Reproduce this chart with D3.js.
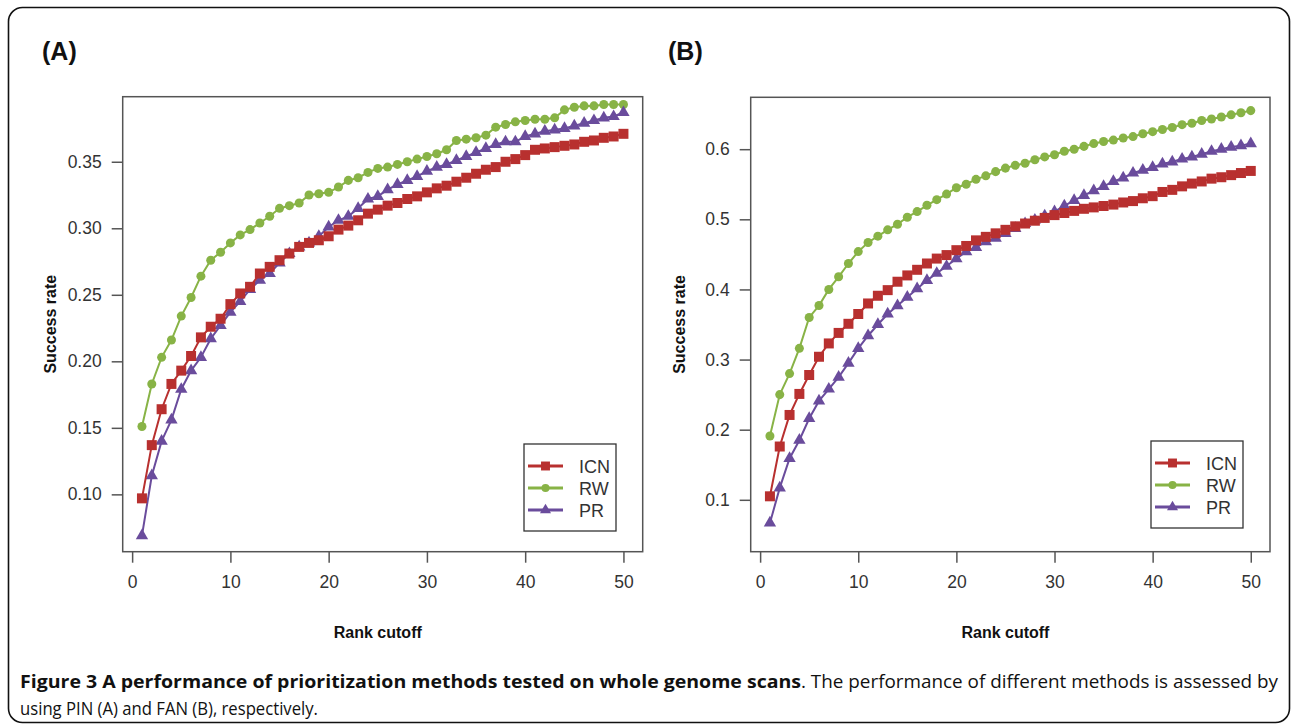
<!DOCTYPE html>
<html>
<head>
<meta charset="utf-8">
<script src="https://cdn.jsdelivr.net/npm/d3@7"></script>
<style>
  body { margin: 0; background: #fff; }
  svg { display: block; }
</style>
</head>
<body>
<div id="fig"></div>
<script>
// rank cutoffs 1..50
const ranks = d3.range(1, 51);

// panel (A) PIN
const icnA = [0.097,0.137,0.164,0.183,0.193,0.204,0.218,0.226,0.232,0.243,0.251,0.256,0.266,0.271,0.276,0.281,0.286,0.289,0.291,0.294,0.299,0.302,0.306,0.311,0.314,0.317,0.319,0.322,0.324,0.327,0.330,0.332,0.335,0.338,0.341,0.344,0.346,0.350,0.352,0.355,0.359,0.360,0.361,0.362,0.363,0.365,0.366,0.368,0.369,0.371];
const rwA  = [0.151,0.183,0.203,0.216,0.234,0.248,0.264,0.276,0.282,0.289,0.295,0.299,0.304,0.309,0.315,0.317,0.319,0.325,0.326,0.327,0.331,0.336,0.338,0.342,0.345,0.346,0.348,0.350,0.352,0.354,0.356,0.359,0.366,0.367,0.368,0.370,0.376,0.378,0.380,0.381,0.382,0.382,0.383,0.389,0.391,0.392,0.392,0.393,0.393,0.393];
const prA  = [0.069,0.114,0.140,0.156,0.179,0.193,0.203,0.217,0.227,0.237,0.245,0.254,0.261,0.266,0.274,0.281,0.286,0.289,0.294,0.301,0.306,0.309,0.315,0.322,0.324,0.329,0.333,0.336,0.339,0.343,0.346,0.348,0.351,0.354,0.357,0.360,0.363,0.365,0.365,0.369,0.371,0.373,0.374,0.375,0.377,0.379,0.381,0.383,0.384,0.387];

// panel (B) FAN
const icnB = [0.105,0.176,0.221,0.251,0.278,0.304,0.323,0.338,0.351,0.365,0.380,0.391,0.399,0.411,0.420,0.428,0.437,0.444,0.449,0.456,0.462,0.470,0.475,0.480,0.485,0.490,0.494,0.498,0.502,0.506,0.509,0.512,0.515,0.517,0.519,0.521,0.524,0.526,0.530,0.533,0.539,0.542,0.547,0.551,0.554,0.558,0.560,0.563,0.566,0.569];
const rwB  = [0.191,0.250,0.280,0.316,0.360,0.377,0.400,0.418,0.437,0.454,0.467,0.476,0.485,0.493,0.503,0.511,0.520,0.528,0.536,0.545,0.550,0.557,0.562,0.568,0.573,0.577,0.580,0.585,0.589,0.592,0.597,0.600,0.604,0.608,0.611,0.613,0.616,0.618,0.622,0.625,0.628,0.631,0.635,0.637,0.641,0.643,0.646,0.649,0.652,0.655];
const prB  = [0.067,0.117,0.159,0.185,0.216,0.241,0.258,0.275,0.295,0.316,0.334,0.350,0.365,0.377,0.389,0.401,0.413,0.423,0.433,0.444,0.454,0.460,0.468,0.473,0.480,0.487,0.494,0.499,0.505,0.511,0.519,0.527,0.534,0.541,0.547,0.554,0.559,0.566,0.570,0.574,0.579,0.582,0.586,0.589,0.593,0.597,0.600,0.603,0.605,0.608];

const methods = ["ICN", "RW", "PR"];
const xTicks = [0, 10, 20, 30, 40, 50];
const yTicksA = [0.10, 0.15, 0.20, 0.25, 0.30, 0.35];
const yTicksB = [0.1, 0.2, 0.3, 0.4, 0.5, 0.6];

const colors = {ICN: "#b8302f", RW: "#88b346", PR: "#6a4c9c"};
const shapes = {ICN: d3.symbolSquare, RW: d3.symbolCircle, PR: d3.symbolTriangle};
const sizes = {ICN: 100, RW: 64, PR: 66};

const W = 1295, H = 727;
const svg = d3.select("#fig").append("svg")
  .attr("width", W).attr("height", H);

// outer frame
svg.append("rect")
  .attr("x", 8.5).attr("y", 7.5)
  .attr("width", 1281).attr("height", 715)
  .attr("rx", 14)
  .attr("fill", "none").attr("stroke", "#111").attr("stroke-width", 1.6);

const font = "'Liberation Sans', Arial, sans-serif";

function panel(opt) {
  const x = d3.scaleLinear().domain([-0.96, 51.96]).range([opt.left, opt.right]);
  const y = d3.scaleLinear().domain(opt.yDomain).range([opt.bottom, opt.top]);
  const g = svg.append("g");

  g.append("text")
    .attr("x", opt.tagX).attr("y", 60)
    .attr("font-family", font).attr("font-weight", "bold").attr("font-size", 25)
    .attr("fill", "#111")
    .text(opt.tag);

  // plot box
  g.append("rect")
    .attr("x", opt.left).attr("y", opt.top)
    .attr("width", opt.right - opt.left).attr("height", opt.bottom - opt.top)
    .attr("fill", "none").attr("stroke", "#555").attr("stroke-width", 1.5);

  // axes
  const xa = g.append("g")
    .attr("transform", "translate(0," + opt.bottom + ")")
    .call(d3.axisBottom(x).tickValues(xTicks).tickSize(11).tickPadding(13));
  const ya = g.append("g")
    .attr("transform", "translate(" + opt.left + ",0)")
    .call(d3.axisLeft(y).tickValues(opt.yTicks).tickFormat(d3.format(opt.fmt)).tickSize(11).tickPadding(10));
  [xa, ya].forEach(a => {
    a.select(".domain").remove();
    a.selectAll("line").attr("stroke", "#555").attr("stroke-width", 1.5);
    a.selectAll("text").attr("font-family", font).attr("font-size", 17.5).attr("fill", "#333");
  });

  g.append("text")
    .attr("x", (x(0) + x(50)) / 2).attr("y", 638)
    .attr("text-anchor", "middle")
    .attr("font-family", font).attr("font-weight", "bold").attr("font-size", 16)
    .attr("fill", "#111")
    .text("Rank cutoff");
  g.append("text")
    .attr("transform", "translate(" + opt.ylabX + "," + ((opt.top + opt.bottom) / 2) + ") rotate(-90)")
    .attr("text-anchor", "middle")
    .attr("font-family", font).attr("font-weight", "bold").attr("font-size", 16)
    .attr("fill", "#111")
    .text("Success rate");

  const line = d3.line().x((d, i) => x(ranks[i])).y(d => y(d));

  ["RW", "PR", "ICN"].forEach(m => {
    const vals = opt.series[m];
    g.append("path")
      .datum(vals)
      .attr("d", line)
      .attr("fill", "none").attr("stroke", colors[m]).attr("stroke-width", 2);
    g.selectAll(null)
      .data(vals)
      .enter().append("path")
      .attr("transform", (d, i) => "translate(" + x(ranks[i]) + "," + y(d) + ")")
      .attr("d", d3.symbol().type(shapes[m]).size(sizes[m]))
      .attr("fill", colors[m]);
  });

  // legend
  const lg = g.append("g");
  lg.append("rect")
    .attr("x", opt.legX).attr("y", opt.legY)
    .attr("width", 92).attr("height", 87)
    .attr("fill", "#fff").attr("stroke", "#333").attr("stroke-width", 1.3);
  methods.forEach((m, i) => {
    const cy = opt.legY + 22 + i * 22;
    lg.append("line")
      .attr("x1", opt.legX + 4).attr("x2", opt.legX + 39)
      .attr("y1", cy).attr("y2", cy)
      .attr("stroke", colors[m]).attr("stroke-width", 3);
    lg.append("path")
      .attr("transform", "translate(" + (opt.legX + 21.5) + "," + cy + ")")
      .attr("d", d3.symbol().type(shapes[m]).size(sizes[m] * 0.8))
      .attr("fill", colors[m]);
    lg.append("text")
      .attr("x", opt.legX + 55).attr("y", cy + 6.5)
      .attr("font-family", font).attr("font-size", 18)
      .attr("fill", "#333")
      .text(m);
  });
}

panel({
  tag: "(A)", tagX: 42,
  left: 122.7, right: 642.7, top: 96.7, bottom: 551.7,
  yDomain: [0.0569, 0.3989], yTicks: yTicksA, fmt: ".2f",
  ylabX: 56, legX: 524, legY: 444,
  series: {ICN: icnA, RW: rwA, PR: prA}
});

panel({
  tag: "(B)", tagX: 668,
  left: 750.7, right: 1270, top: 97.3, bottom: 551.7,
  yDomain: [0.026, 0.674], yTicks: yTicksB, fmt: ".1f",
  ylabX: 685, legX: 1151, legY: 441,
  series: {ICN: icnB, RW: rwB, PR: prB}
});

// caption, squeezed to the spans it takes in the figure
const capFont = "'Open Sans', 'Noto Sans', sans-serif";
function capText(x, y, w, txt, bold) {
  svg.append("text")
    .attr("x", x).attr("y", y)
    .attr("font-family", capFont).attr("font-size", 17.5).attr("fill", "#111")
    .attr("font-weight", bold ? "bold" : "normal")
    .attr("textLength", w).attr("lengthAdjust", "spacingAndGlyphs")
    .text(txt);
}
capText(20, 688, 781, "Figure 3 A performance of prioritization methods tested on whole genome scans", true);
capText(801, 688, 477, ". The performance of different methods is assessed by", false);
capText(20, 715, 298, "using PIN (A) and FAN (B), respectively.", false);
</script>
</body>
</html>
